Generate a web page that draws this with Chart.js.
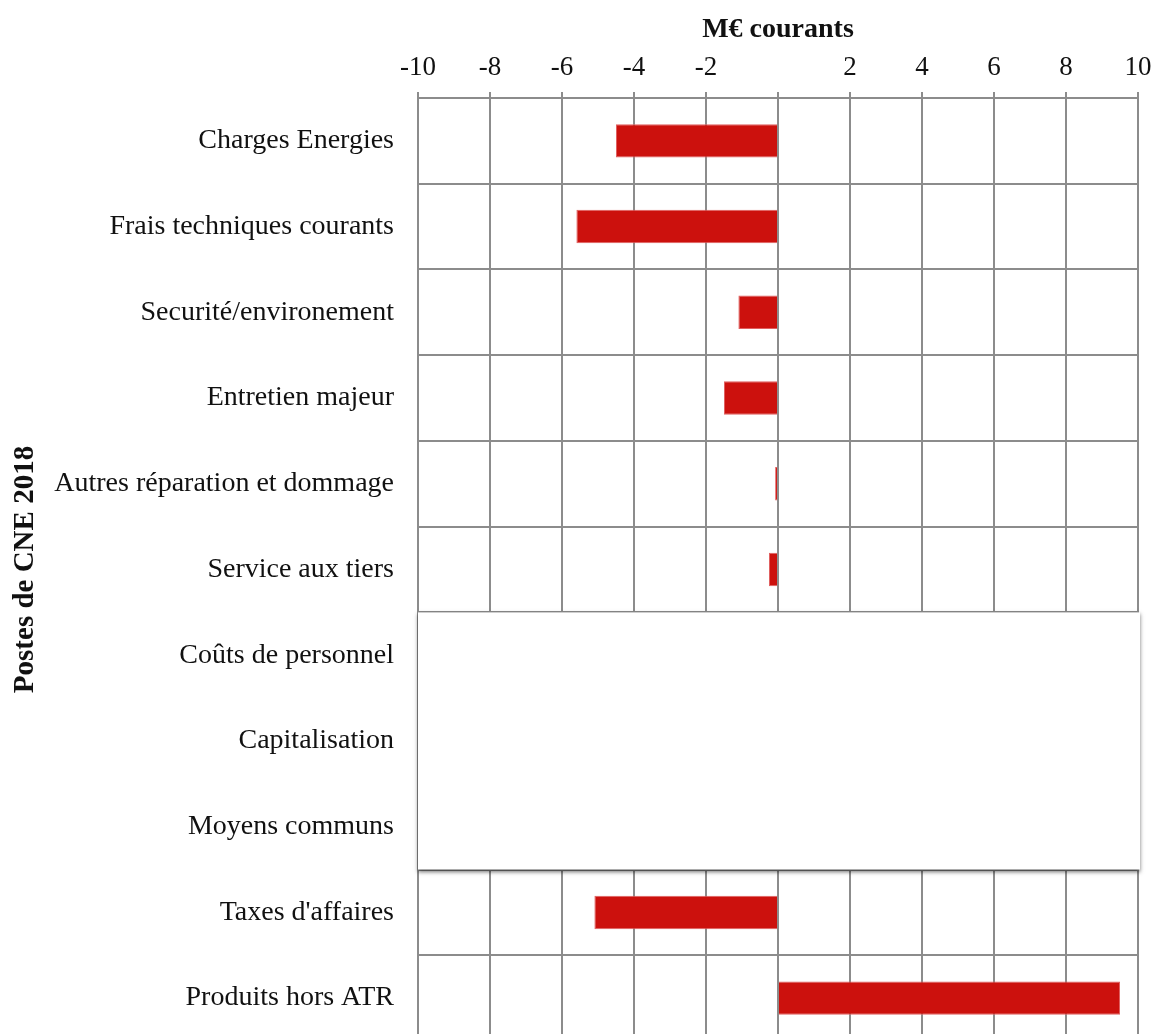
<!DOCTYPE html>
<html>
<head>
<meta charset="utf-8">
<script src="https://cdn.jsdelivr.net/npm/chart.js@4/dist/chart.umd.min.js"></script>
<style>
  html, body { margin: 0; padding: 0; background: #fff; overflow: hidden; }
  canvas { display: block; }
</style>
</head>
<body>
<canvas id="myChart" width="1155" height="1050"></canvas>
<script>
const categories = ["Charges Energies", "Frais techniques courants", "Securité/environement",
    "Entretien majeur", "Autres réparation et dommage", "Service aux tiers",
    "Coûts de personnel", "Capitalisation", "Moyens communs",
    "Taxes d'affaires", "Produits hors ATR"];
// three rows are hidden behind the white box in the picture
const values = [-4.5, -5.6, -1.1, -1.5, -0.08, -0.25, null, null, null, -5.1, 9.5];
const hiddenRows = ["Coûts de personnel", "Moyens communs"];
const xTicks = [-10, -8, -6, -4, -2, 0, 2, 4, 6, 8, 10];

const serif = "'Liberation Serif', 'DejaVu Serif', serif";

// white panel with a soft shadow covering the hidden rows
const coverBox = {
    id: 'coverBox',
    afterDatasetsDraw(chart) {
        const { ctx, scales: { x, y } } = chart;
        const top = y.getPixelForValue(categories.indexOf(hiddenRows[0]) - 0.5);
        const bottom = y.getPixelForValue(categories.indexOf(hiddenRows[1]) + 0.5);
        const left = x.getPixelForValue(-10);
        const right = x.getPixelForValue(10) + 2;
        ctx.save();
        ctx.shadowColor = 'rgba(0,0,0,0.55)';
        ctx.shadowBlur = 4;
        ctx.shadowOffsetY = 2;
        ctx.fillStyle = '#fff';
        ctx.fillRect(left, top, right - left, bottom - top);
        ctx.restore();
    }
};

const ctx = document.getElementById('myChart').getContext('2d');
const myChart = new Chart(ctx, {
    type: 'bar',
    data: {
        labels: categories,
        datasets: [{
            data: values,
            backgroundColor: '#CC110D',
            borderColor: '#E06060',
            borderWidth: 1,
            barPercentage: 0.39,
            categoryPercentage: 1
        }]
    },
    plugins: [coverBox],
    options: {
        indexAxis: 'y',
        responsive: false,
        animation: false,
        layout: { padding: { top: 0, left: 8, right: 17, bottom: 9 } },
        plugins: {
            legend: { display: false },
            tooltip: { enabled: false }
        },
        scales: {
            x: {
                position: 'top',
                min: -10,
                max: 10,
                afterBuildTicks(scale) {
                    scale.ticks = xTicks.map(v => ({ value: v }));
                },
                afterFit(scale) {
                    scale.height = 98;
                    scale.paddingLeft = 0;
                    scale.paddingRight = 0;
                },
                grid: {
                    color: '#8c8c8c',
                    lineWidth: 2,
                    drawTicks: true,
                    tickLength: 6
                },
                border: { color: '#8c8c8c', width: 2 },
                ticks: {
                    color: '#111',
                    padding: 8,
                    maxRotation: 0,
                    font: { family: serif, size: 27 },
                    callback: (v) => v === 0 ? '' : v
                },
                title: {
                    display: true,
                    text: 'M€ courants',
                    color: '#111',
                    padding: { top: 13, bottom: 0 },
                    font: { family: serif, size: 28, weight: 'bold' }
                }
            },
            y: {
                afterFit(scale) {
                    scale.width = 410;
                    scale.paddingTop = 0;
                    scale.paddingBottom = 0;
                },
                grid: {
                    offset: true,
                    color: '#8c8c8c',
                    lineWidth: 2,
                    drawTicks: false
                },
                border: { color: '#8c8c8c', width: 2 },
                ticks: {
                    color: '#111',
                    padding: 24,
                    autoSkip: false,
                    font: { family: serif, size: 28 }
                },
                title: {
                    display: true,
                    text: 'Postes de CNE 2018',
                    color: '#111',
                    padding: { top: 0, bottom: 0 },
                    font: { family: serif, size: 29, weight: 'bold' }
                }
            }
        }
    }
});
</script>
</body>
</html>
